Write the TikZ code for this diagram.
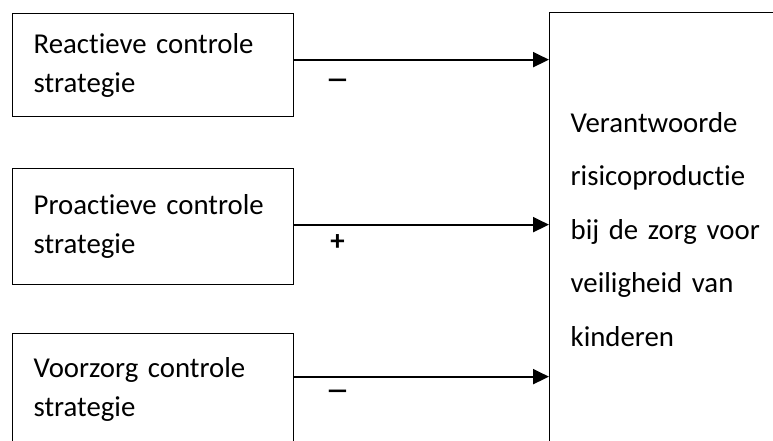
\documentclass[tikz,border=0pt]{standalone}
\usepackage{graphicx}
\usepackage{fontspec}
\setmainfont{Carlito}[Ligatures=TeX,RawFeature={-liga;-clig;-calt;-dlig}]
\usetikzlibrary{arrows.meta}

\begin{document}
\begin{tikzpicture}[x=1pt,y=-1pt,
  strat/.style={draw,line width=1.3pt,anchor=north west,inner xsep=21pt,text width=239pt,align=left,font=\fontsize{28.8}{39}\selectfont},
  arr/.style={line width=2pt,-{Triangle[length=16pt,width=15pt]}},
  sign/.style={font=\fontsize{28.8}{28.8}\selectfont\bfseries}]
  \useasboundingbox (0,0) rectangle (773,441);
  \clip (0,0) rectangle (773,441);

  \node[strat,minimum height=103pt] (reactief) at (12,13) {Reactieve controle\\strategie};
  \node[strat,minimum height=116pt] (proactief) at (12,168) {Proactieve controle\\strategie};
  \node[strat,minimum height=112pt] (voorzorg) at (12,333) {Voorzorg controle\\strategie};

  \node[draw,line width=1.3pt,anchor=north west,minimum height=433pt,inner xsep=21pt,text width=218pt,align=left,
    font=\fontsize{28.8}{53.5}\selectfont] (risico) at (549,12)
    {Verantwoorde\\risicoproductie\\bij de zorg voor\\veiligheid van\\kinderen};

  \coordinate (a1) at ([yshift=5.5pt]reactief.east);
  \coordinate (a2) at ([yshift=2pt]proactief.east);
  \coordinate (a3) at ([yshift=13pt]voorzorg.east);

  \draw[arr] (a1) -- (a1 -| risico.west) node[sign,pos=0.17,yshift=-24pt] (min1) {\scalebox{1.7}[1]{–}};
  \draw[arr] (a2) -- (a2 -| risico.west) node[sign,pos=0.17,yshift=-18pt] (plus) {+};
  \draw[arr] (a3) -- (a3 -| risico.west) node[sign,pos=0.17,yshift=-18pt] (min2) {\scalebox{1.7}[1]{–}};
\end{tikzpicture}
\end{document}
